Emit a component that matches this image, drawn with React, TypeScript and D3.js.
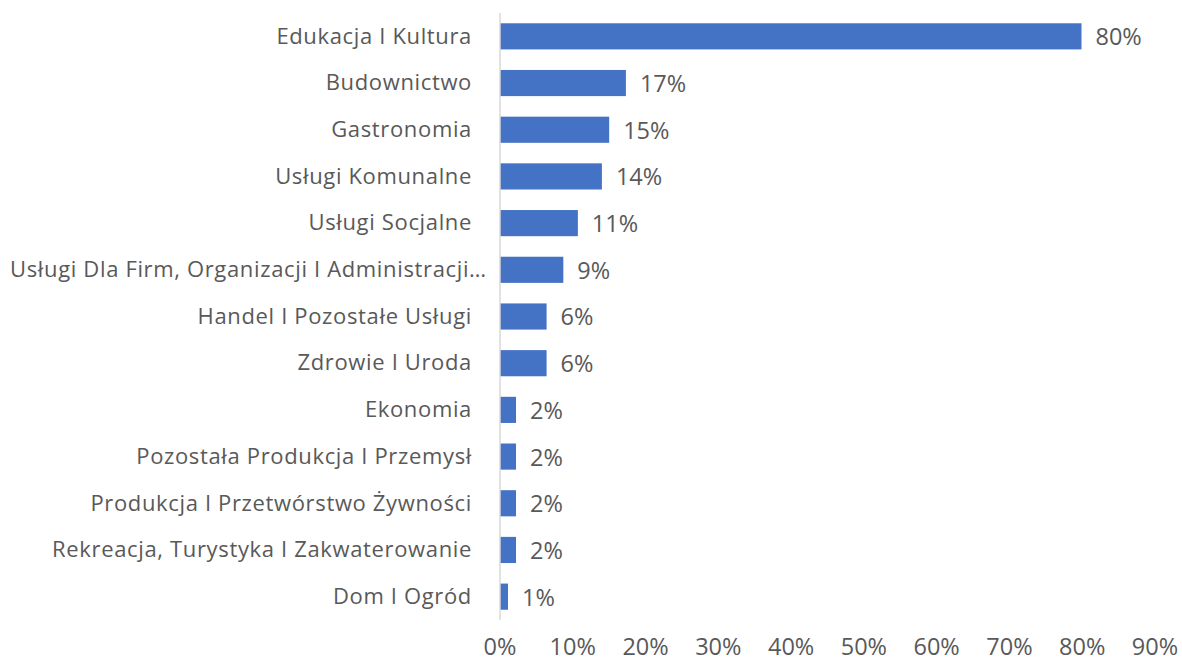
import React from "react";
import * as d3 from "d3";

const categories = [
  "Edukacja I Kultura",
  "Budownictwo",
  "Gastronomia",
  "Usługi Komunalne",
  "Usługi Socjalne",
  "Usługi Dla Firm, Organizacji I Administracji…",
  "Handel I Pozostałe Usługi",
  "Zdrowie I Uroda",
  "Ekonomia",
  "Pozostała Produkcja I Przemysł",
  "Produkcja I Przetwórstwo Żywności",
  "Rekreacja, Turystyka I Zakwaterowanie",
  "Dom I Ogród",
];
const values = [0.799, 0.173, 0.15, 0.14, 0.107, 0.087, 0.064, 0.064, 0.022, 0.022, 0.022, 0.022, 0.011];
const ticks = [0, 0.1, 0.2, 0.3, 0.4, 0.5, 0.6, 0.7, 0.8, 0.9];

const W = 1182;
const H = 663;
const FONT = "'Open Sans', sans-serif";
const TEXT = "#595959";

export default function App() {
  const x = d3.scaleLinear().domain([0, 0.9]).range([500, 1155]);
  const y = d3.scaleBand().domain(categories).range([13, 620]).paddingInner(0.44).paddingOuter(0.22);
  const fmt = d3.format(".0%");
  return (
    <svg width={W} height={H} style={{ position: "absolute", left: 0, top: 0, background: "#fff" }} fontFamily={FONT}>
      {categories.map((c, i) => {
        const yc = y(c)! + y.bandwidth() / 2;
        const truncated = c.endsWith("…");
        return (
          <g key={c}>
            <rect x={x(0)} y={y(c)} width={x(values[i]) - x(0)} height={y.bandwidth()} fill="#4472C4" />
            <text
              x={truncated ? 10 : 472}
              y={yc}
              dy="0.33em"
              textAnchor={truncated ? "start" : "end"}
              fontSize={22}
              letterSpacing={0.65}
              fill={TEXT}
            >
              {c}
            </text>
            <text x={x(values[i]) + 14} y={yc} dy="0.38em" fontSize={23.5} fill={TEXT}>
              {fmt(values[i])}
            </text>
          </g>
        );
      })}
      <line x1={x(0)} x2={x(0)} y1={13} y2={620} stroke="#d9d9d9" strokeWidth={1.5} />
      {ticks.map((t) => (
        <text key={t} x={x(t)} y={655} textAnchor="middle" fontSize={23.5} fill={TEXT}>
          {fmt(t)}
        </text>
      ))}
    </svg>
  );
}
